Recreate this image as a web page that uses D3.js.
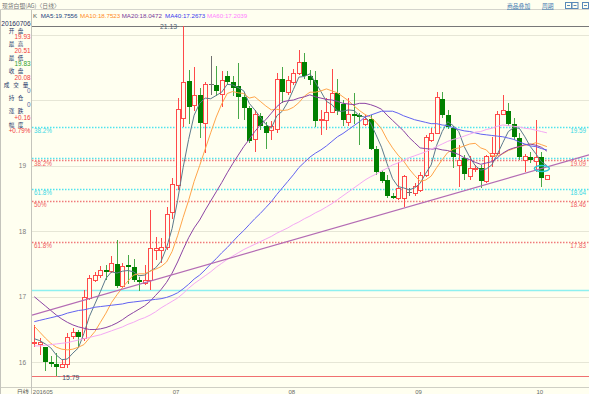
<!DOCTYPE html>
<html>
<head>
<meta charset="utf-8">
<script src="https://cdn.jsdelivr.net/npm/d3@7"></script>
<style>
  html, body { margin: 0; padding: 0; background: #fffff0; }
  svg { display: block; font-family: "Liberation Sans", "Noto Sans CJK SC", sans-serif; }
</style>
</head>
<body>
<svg id="chart" width="589" height="394"></svg>
<script>
// daily candles, one per weekday, index 0 = late May 2016
const openP = [16.29,16.28,16.23,16.01,15.98,15.93,15.97,16.40,16.46,16.37,
  16.98,17.26,17.33,17.41,17.39,17.50,17.16,17.48,17.45,17.26,
  17.21,17.25,17.71,17.72,17.76,18.29,18.71,19.73,20.29,19.93,
  20.07,19.65,20.24,20.23,20.09,20.36,20.28,20.22,20.04,19.88,
  19.40,19.75,19.61,19.55,19.56,20.32,20.13,20.28,20.42,20.58,
  20.37,20.31,19.69,19.69,19.82,20.11,19.94,19.66,19.79,19.77,
  19.64,19.71,19.26,18.90,18.78,18.54,18.50,18.50,18.59,18.58,
  18.63,18.86,19.39,19.50,20.01,19.77,19.57,19.01,19.11,18.84,
  18.95,18.97,18.77,19.15,19.19,19.79,19.83,19.64,19.42,19.08,
  19.13,19.07,19.13,18.80];
const highP = [16.57,16.37,16.24,16.09,16.14,16.04,16.45,16.52,16.49,17.11,
  17.33,17.38,17.47,17.48,17.62,17.87,17.51,17.64,17.57,17.30,
  17.48,18.32,17.91,17.90,18.37,18.81,20.03,21.13,20.46,20.51,
  20.18,20.28,20.67,20.52,20.45,20.45,20.36,20.56,20.13,19.91,
  19.85,19.80,19.66,19.68,20.41,20.50,20.37,20.48,20.76,20.72,
  20.46,20.45,19.85,20.03,20.48,20.32,20.00,20.03,20.11,19.80,
  19.77,19.77,19.30,18.94,18.85,18.58,19.06,18.86,18.66,18.74,
  18.91,19.47,19.58,20.13,20.13,19.85,19.61,19.31,19.16,19.14,
  19.01,19.01,19.16,19.44,19.83,20.08,19.95,19.72,19.50,19.18,
  19.21,19.69,19.21,18.86];
const lowP = [16.24,16.11,15.87,15.93,15.79,15.91,15.91,16.35,16.24,16.33,
  16.95,17.22,17.28,17.25,17.36,17.13,17.14,17.20,17.22,17.08,
  17.18,17.11,17.56,17.51,17.71,18.18,18.63,19.59,19.64,19.83,
  19.42,19.19,20.08,20.06,19.89,20.23,20.06,19.71,19.70,19.35,
  19.21,19.55,19.26,19.39,19.50,19.95,20.08,20.23,20.38,20.32,
  20.23,19.59,19.47,19.55,19.80,19.77,19.61,19.61,19.64,19.31,
  19.60,19.24,18.85,18.74,18.51,18.49,18.47,18.37,18.54,18.54,
  18.60,18.83,19.36,19.48,19.72,19.56,18.97,18.68,18.78,18.78,
  18.91,18.66,18.74,18.98,19.16,19.77,19.60,19.39,19.08,18.90,
  19.04,18.90,18.68,18.78];
const closeP = [16.31,16.31,16.00,15.98,15.93,15.97,16.38,16.46,16.38,17.00,
  17.28,17.33,17.41,17.37,17.52,17.17,17.47,17.46,17.26,17.22,
  17.26,17.74,17.74,17.76,18.26,18.72,19.86,20.27,19.90,20.08,
  19.65,20.24,20.24,20.14,20.31,20.27,20.18,20.04,19.88,19.37,
  19.78,19.61,19.50,19.60,20.32,20.13,20.31,20.42,20.58,20.37,
  20.31,19.68,19.71,19.82,20.11,19.83,19.69,19.79,19.76,19.74,
  19.71,19.26,18.90,18.77,18.53,18.52,18.66,18.84,18.59,18.69,
  18.86,19.43,19.50,20.05,19.77,19.59,19.13,19.08,18.87,18.97,
  18.97,18.77,19.15,19.19,19.79,19.85,19.64,19.43,19.13,19.15,
  19.08,19.13,18.81,18.85];

// moving averages
const ma5 = [16.36,16.33,16.28,16.22,16.11,16.04,16.05,16.14,16.22,16.44,
  16.70,16.89,17.08,17.28,17.38,17.36,17.39,17.40,17.38,17.32,
  17.33,17.39,17.44,17.54,17.75,18.04,18.47,18.97,19.40,19.77,
  19.95,20.03,20.02,20.07,20.12,20.24,20.23,20.19,20.14,19.95,
  19.85,19.74,19.63,19.57,19.76,19.83,19.97,20.16,20.35,20.36,
  20.40,20.27,20.13,19.98,19.93,19.83,19.83,19.85,19.84,19.76,
  19.74,19.65,19.47,19.28,19.03,18.80,18.68,18.66,18.63,18.66,
  18.73,18.88,19.01,19.31,19.52,19.67,19.61,19.52,19.29,19.13,
  19.00,18.93,18.95,19.01,19.17,19.35,19.52,19.58,19.57,19.44,
  19.29,19.18,19.06,19.00];
const ma10 = [16.55,16.46,16.37,16.29,16.23,16.20,16.19,16.20,16.23,16.27,
  16.37,16.47,16.61,16.75,16.91,17.03,17.14,17.24,17.33,17.35,
  17.35,17.39,17.42,17.46,17.53,17.69,17.93,18.21,18.47,18.76,
  19.00,19.25,19.50,19.74,19.94,20.10,20.13,20.11,20.10,20.03,
  20.05,19.98,19.91,19.85,19.86,19.84,19.85,19.89,19.96,20.06,
  20.12,20.12,20.14,20.17,20.14,20.11,20.05,19.99,19.91,19.84,
  19.78,19.74,19.66,19.56,19.40,19.27,19.16,19.07,18.95,18.85,
  18.76,18.78,18.84,18.97,19.09,19.20,19.25,19.27,19.30,19.33,
  19.34,19.27,19.24,19.15,19.15,19.18,19.23,19.26,19.29,19.31,
  19.32,19.35,19.32,19.29];
const ma20 = [17.00,16.93,16.86,16.79,16.72,16.66,16.61,16.57,16.54,16.52,
  16.50,16.50,16.51,16.53,16.56,16.60,16.65,16.71,16.76,16.81,
  16.86,16.93,17.02,17.11,17.22,17.36,17.53,17.72,17.90,18.05,
  18.17,18.32,18.46,18.60,18.74,18.89,19.03,19.16,19.29,19.40,
  19.52,19.62,19.70,19.80,19.90,19.97,19.99,20.00,20.03,20.05,
  20.08,20.05,20.03,20.01,20.00,19.98,19.95,19.94,19.93,19.95,
  19.95,19.93,19.90,19.86,19.77,19.69,19.61,19.53,19.43,19.35,
  19.27,19.26,19.25,19.26,19.24,19.23,19.20,19.17,19.12,19.09,
  19.05,19.02,19.04,19.06,19.12,19.19,19.24,19.27,19.29,19.32,
  19.33,19.31,19.28,19.22];
const ma40 = [16.62,16.64,16.66,16.68,16.70,16.72,16.75,16.77,16.79,16.80,
  16.82,16.84,16.85,16.86,16.87,16.88,16.89,16.91,16.92,16.93,
  16.94,16.95,16.96,16.97,16.99,17.02,17.06,17.12,17.19,17.27,
  17.33,17.41,17.50,17.58,17.67,17.75,17.84,17.93,18.01,18.10,
  18.19,18.27,18.36,18.45,18.56,18.66,18.76,18.86,18.97,19.05,
  19.13,19.19,19.24,19.30,19.37,19.44,19.49,19.55,19.61,19.67,
  19.74,19.77,19.80,19.83,19.83,19.83,19.80,19.76,19.73,19.70,
  19.68,19.66,19.64,19.64,19.62,19.61,19.58,19.55,19.53,19.52,
  19.50,19.48,19.47,19.46,19.45,19.44,19.42,19.40,19.36,19.33,
  19.30,19.29,19.26,19.24];
const ma60 = [16.25,16.25,16.26,16.27,16.28,16.29,16.30,16.32,16.34,16.36,
  16.38,16.40,16.42,16.45,16.48,16.51,16.54,16.58,16.61,16.65,
  16.68,16.72,16.77,16.83,16.88,16.93,16.98,17.05,17.13,17.20,
  17.26,17.32,17.38,17.45,17.51,17.57,17.62,17.67,17.72,17.76,
  17.80,17.84,17.88,17.92,17.97,18.01,18.05,18.10,18.14,18.19,
  18.23,18.28,18.32,18.37,18.42,18.48,18.54,18.60,18.66,18.72,
  18.78,18.83,18.87,18.92,18.96,19.01,19.04,19.08,19.12,19.15,
  19.18,19.21,19.25,19.29,19.33,19.37,19.40,19.42,19.45,19.48,
  19.51,19.52,19.55,19.57,19.60,19.62,19.61,19.60,19.59,19.57,
  19.56,19.54,19.52,19.50];

const maNames = ["MA5", "MA10", "MA20", "MA40", "MA60"];
const maLast = ["19.7556", "18.7523", "18.0472", "17.2673", "17.2039"];

const monthIdx = [0, 26, 47, 70, 92];
const monthLabels = ["201605", "07", "08", "09", "10"];
const priceTicks = [16, 17, 18, 19, 20, 21];
const priceLabels = [16, 17, 18, 19];

// golden section levels
const redFibNames = ["38.2%", "50%", "61.8%"];
const redFibVals = [19.09, 18.46, 17.83];
const cyanFibNames = ["38.2%", "", "61.8%"];
const cyanFibVals = [19.59, 19.12, 18.64];
const cyanBase = 17.10;
const highIdx = 27, highVal = 21.13;
const lowIdx = 4, lowVal = 15.79;

// trend line anchors
const trendIdx = [0, 93];
const trendVal = [16.73, 18.98];

// hovered day panel
const infoDate = "20160706";
const infoNames = ["开盘", "最高", "最低", "收盘", "成交量", "持仓", "涨跌", "幅度"];
const infoVals = ["19.93", "20.51", "19.83", "20.08", "0", "0", "+0.16", "+0.79%"];

const W = 589, H = 394;
const bg = "#fffff0";
const plot = {left: 32, right: 589, top: 26, bottom: 387};
const svg = d3.select("#chart");

svg.append("rect").attr("width", W).attr("height", H).attr("fill", bg);

const x = d3.scaleLinear().domain([0, 93]).range([34.3, 546.9]);
const y = d3.scaleLinear().domain([16, 21]).range([362.3, 34.5]);
const py = v => Math.round(y(v)) + 0.5;

svg.append("defs").append("clipPath").attr("id", "clip")
  .append("rect")
  .attr("x", plot.left).attr("y", plot.top)
  .attr("width", plot.right - plot.left).attr("height", plot.bottom - plot.top);

const g = svg.append("g").attr("clip-path", "url(#clip)");

// grid
g.selectAll(".grid").data(priceTicks).enter().append("line")
  .attr("x1", plot.left).attr("x2", plot.right)
  .attr("y1", py).attr("y2", py)
  .attr("stroke", "#e6e6d6");

// fib levels
const fib = g.append("g");
fib.selectAll(".cf").data(cyanFibVals).enter().append("line")
  .attr("x1", plot.left).attr("x2", plot.right)
  .attr("y1", py).attr("y2", py)
  .attr("stroke", "#50e4ee").attr("stroke-width", 1.3)
  .attr("stroke-dasharray", "1.5,1.5");
fib.selectAll(".rf").data(redFibVals).enter().append("line")
  .attr("x1", plot.left).attr("x2", plot.right)
  .attr("y1", py).attr("y2", py)
  .attr("stroke", "#f07a7a").attr("stroke-width", 1.3)
  .attr("stroke-dasharray", "1.5,1.5");

g.append("line").attr("x1", plot.left).attr("x2", plot.right)
  .attr("y1", py(cyanBase)).attr("y2", py(cyanBase))
  .attr("stroke", "#8ef0f0").attr("stroke-width", 1.5);
g.append("line").attr("x1", plot.left).attr("x2", plot.right)
  .attr("y1", py(lowVal)).attr("y2", py(lowVal))
  .attr("stroke", "#f07070");
g.append("line").attr("x1", plot.left).attr("x2", plot.right)
  .attr("y1", py(highVal)).attr("y2", py(highVal))
  .attr("stroke", "#787878");

// fib labels
const fibText = (sel, names, vals, color) => {
  sel.selectAll(null).data(vals).enter().append("text")
    .attr("x", 34).attr("y", d => y(d) + 3.5)
    .attr("font-size", 6.3).attr("fill", color)
    .attr("dominant-baseline", "central")
    .text((d, i) => names[i]);
  sel.selectAll(null).data(vals).enter().append("text")
    .attr("x", 586).attr("y", d => y(d) + 3.5)
    .attr("text-anchor", "end")
    .attr("font-size", 6.3).attr("fill", color)
    .attr("dominant-baseline", "central")
    .text((d, i) => names[i] ? d.toFixed(2) : "");
};
fibText(svg.append("g"), cyanFibNames, cyanFibVals, "#3cd8e4");
fibText(svg.append("g"), redFibNames, redFibVals, "#f06060");

// candles
const candles = openP.map((o, i) => ({i, o, h: highP[i], l: lowP[i], c: closeP[i]}));
const upC = "#ff4a4a", downC = "#008000", downWick = "#48a848", flatC = "#707070";
const colorOf = d => d.c > d.o ? upC : d.c < d.o ? downWick : flatC;
const cg = g.append("g").attr("shape-rendering", "crispEdges");

cg.selectAll(".wick").data(candles).enter().append("line")
  .attr("x1", d => Math.round(x(d.i)) + 0.5)
  .attr("x2", d => Math.round(x(d.i)) + 0.5)
  .attr("y1", d => Math.round(y(d.h)))
  .attr("y2", d => Math.round(y(d.l)))
  .attr("stroke", colorOf);

cg.selectAll(".up").data(candles.filter(d => d.c > d.o)).enter().append("rect")
  .attr("x", d => Math.round(x(d.i)) - 1.5)
  .attr("y", d => Math.round(y(d.c)) + 0.5)
  .attr("width", 4)
  .attr("height", d => Math.max(1, Math.round(y(d.o)) - Math.round(y(d.c))))
  .attr("fill", bg).attr("stroke", upC);

cg.selectAll(".down").data(candles.filter(d => d.c < d.o)).enter().append("rect")
  .attr("x", d => Math.round(x(d.i)) - 2)
  .attr("y", d => Math.round(y(d.o)))
  .attr("width", 5)
  .attr("height", d => Math.max(2, Math.round(y(d.c)) - Math.round(y(d.o))))
  .attr("fill", downC);

cg.selectAll(".flat").data(candles.filter(d => d.c === d.o)).enter().append("line")
  .attr("x1", d => Math.round(x(d.i)) - 2)
  .attr("x2", d => Math.round(x(d.i)) + 3)
  .attr("y1", d => py(d.o)).attr("y2", d => py(d.o))
  .attr("stroke", flatC);

// moving averages
const maSeries = [ma5, ma10, ma20, ma40, ma60];
const maLine = ["#5c7a8c", "#ffa54a", "#8c44a4", "#6262f0", "#f4a8f4"];
const maText = ["#24427e", "#ff8a1e", "#7a3a9a", "#3a3aee", "#ff80ff"];
const line = d3.line().x((d, i) => x(i)).y(d => y(d));
g.selectAll(".ma").data(maSeries).enter().append("path")
  .attr("d", line)
  .attr("fill", "none")
  .attr("stroke", (d, i) => maLine[i])
  .attr("stroke-width", 1);

// trend line, stretched to the plot edges
const slope = (trendVal[1] - trendVal[0]) / (trendIdx[1] - trendIdx[0]);
const tAt = i => trendVal[0] + slope * (i - trendIdx[0]);
const i0 = x.invert(plot.left), i1 = x.invert(plot.right);
g.append("line")
  .attr("x1", x(i0)).attr("y1", y(tAt(i0)))
  .attr("x2", x(i1)).attr("y2", y(tAt(i1)))
  .attr("stroke", "#b46cb4").attr("stroke-width", 1.2);

// marker ellipse on last break
g.append("ellipse")
  .attr("cx", x(92) + 0.5).attr("cy", y(tAt(92)))
  .attr("rx", 7.5).attr("ry", 3)
  .attr("fill", "none").attr("stroke", "#2cc4d6").attr("stroke-width", 1.5);

// high / low marks
svg.append("line")
  .attr("x1", x(highIdx) - 4).attr("x2", x(highIdx) - 1.5)
  .attr("y1", py(highVal)).attr("y2", py(highVal))
  .attr("stroke", "#888");
svg.append("text")
  .attr("x", x(highIdx) - 6).attr("y", y(highVal) + 0.5)
  .attr("text-anchor", "end").attr("dominant-baseline", "central")
  .attr("font-size", 6.8).attr("fill", "#4e5e70")
  .text(highVal.toFixed(2));
svg.append("line")
  .attr("x1", x(lowIdx) + 1.5).attr("x2", x(lowIdx) + 4)
  .attr("y1", py(lowVal)).attr("y2", py(lowVal))
  .attr("stroke", "#888");
svg.append("text")
  .attr("x", x(lowIdx) + 6).attr("y", y(lowVal) + 1)
  .attr("dominant-baseline", "central")
  .attr("font-size", 6.8).attr("fill", "#3e4e6a")
  .text(lowVal.toFixed(2));

// frame lines
svg.append("line").attr("x1", 0).attr("x2", W).attr("y1", 9.5).attr("y2", 9.5).attr("stroke", "#d4d4cc");
svg.append("line").attr("x1", 0).attr("x2", W).attr("y1", plot.bottom + 0.5).attr("y2", plot.bottom + 0.5).attr("stroke", "#cfcfc4");
svg.append("line").attr("x1", 31.5).attr("x2", 31.5).attr("y1", 10).attr("y2", H).attr("stroke", "#c4c4bc");
svg.append("line").attr("x1", 0.5).attr("x2", 0.5).attr("y1", 10).attr("y2", H).attr("stroke", "#c4c4bc");

// y labels
const yAxis = d3.axisLeft(y).tickValues(priceLabels).tickSize(0).tickFormat(d3.format("d"));
const ya = svg.append("g").attr("transform", "translate(29,0)").call(yAxis);
ya.select(".domain").remove();
ya.selectAll("text").attr("font-size", 6.5).attr("fill", "#7c7c7c")
  .attr("font-family", "Liberation Sans, sans-serif").attr("dx", 0);

// x labels
svg.selectAll(".mon").data(monthIdx).enter().append("text")
  .attr("x", (d, i) => i === 0 ? x(d) - 1.5 : x(d) - 1.5)
  .attr("y", 391.5)
  .attr("text-anchor", (d, i) => i === 0 ? "start" : "middle")
  .attr("dominant-baseline", "central")
  .attr("font-size", 6).attr("fill", "#6a6a6a")
  .text((d, i) => monthLabels[i]);
svg.append("text").attr("x", 29).attr("y", 391).attr("text-anchor", "end")
  .attr("dominant-baseline", "central")
  .attr("font-family", "Noto Sans CJK SC").attr("font-size", 6.2).attr("fill", "#555")
  .text("日线");

// title bar
svg.append("text").attr("x", 2).attr("y", 5).attr("dominant-baseline", "central")
  .attr("font-family", "Noto Sans CJK SC").attr("font-size", 5.8).attr("fill", "#707070")
  .text("现货白银(AG)〈日线〉");
[["商品叠加", 507], ["周期", 542]].forEach(([t, px]) => {
  svg.append("text").attr("x", px).attr("y", 5.5).attr("dominant-baseline", "central")
    .attr("font-family", "Noto Sans CJK SC").attr("font-size", 5.8).attr("fill", "#3f78b0")
    .attr("text-decoration", "underline").text(t);
});
[[565, 6], [571.5, 6], [582, 6]].forEach(([bx, bw]) => {
  svg.append("rect").attr("x", bx + 0.5).attr("y", 2.5).attr("width", bw).attr("height", 6)
    .attr("fill", "none").attr("stroke", "#5a8ab8");
  svg.append("line").attr("x1", bx + 2).attr("x2", bx + bw - 1).attr("y1", 5.5).attr("y2", 5.5)
    .attr("stroke", "#5a8ab8");
});

// MA legend row
svg.append("text").attr("x", 33).attr("y", 15).attr("dominant-baseline", "central")
  .attr("font-size", 6.2).attr("fill", "#555").text("K");
const maX = [40.7, 80, 121.7, 165, 207];
svg.selectAll(".mal").data(maNames).enter().append("text")
  .attr("x", (d, i) => maX[i]).attr("y", 15)
  .attr("dominant-baseline", "central")
  .attr("font-size", 6.2).attr("fill", (d, i) => maText[i])
  .text((d, i) => d + ":" + maLast[i]);

// left info panel
svg.append("text").attr("x", 16).attr("y", 23).attr("text-anchor", "middle")
  .attr("dominant-baseline", "central").attr("font-size", 6.6).attr("fill", "#1e2e5e")
  .text(infoDate);
const valColor = ["#f03a3a", "#f03a3a", "#2e9e2e", "#f03a3a", "#4a64a0", "#4a64a0", "#f03a3a", "#f03a3a"];
infoNames.forEach((nm, k) => {
  const ly = 30.7 + k * 13.45;
  const chars = nm.split("");
  const cx = chars.length === 2 ? [11.5, 20.5] : [6.5, 16, 25.5];
  chars.forEach((ch, j) => {
    svg.append("text").attr("x", cx[j]).attr("y", ly).attr("text-anchor", "middle")
      .attr("dominant-baseline", "central")
      .attr("font-family", "Noto Sans CJK SC").attr("font-size", 5.6).attr("fill", "#26386a")
      .text(ch);
  });
  svg.append("text").attr("x", 30.5).attr("y", ly + 6.1).attr("text-anchor", "end")
    .attr("dominant-baseline", "central").attr("font-size", 6.4).attr("fill", valColor[k])
    .text(infoVals[k]);
});
</script>
</body>
</html>
